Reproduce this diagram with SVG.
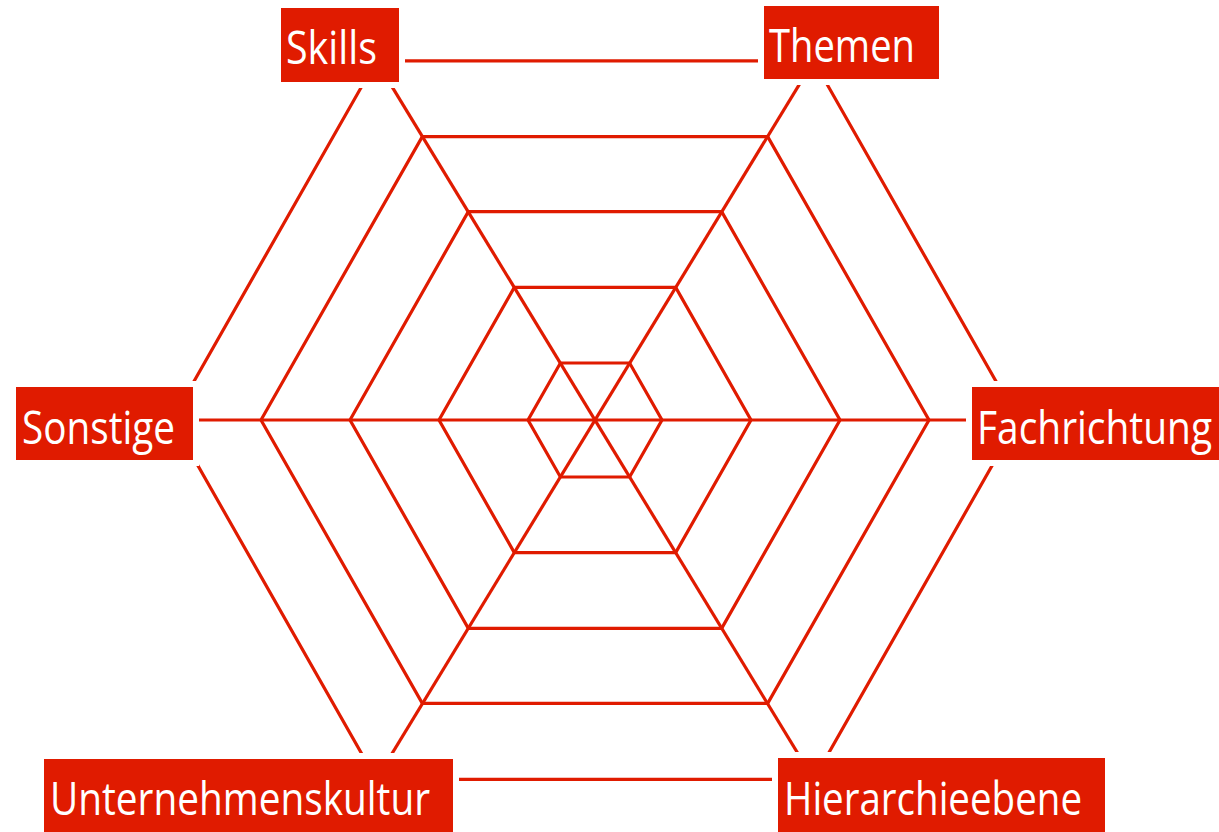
<svg xmlns="http://www.w3.org/2000/svg" width="1219" height="832" viewBox="0 0 1219 832">
<style>
.ln{fill:none;stroke:#e01b00;stroke-width:3.2;stroke-linejoin:miter}
.gap{fill:#ffffff}
.box{fill:#e01b00}
.lbl{fill:#ffffff;font-family:"Open Sans","Noto Sans","Liberation Sans",sans-serif;font-size:45px}
</style>
<rect x="0" y="0" width="1219" height="832" fill="#ffffff"/>
<g id="web">
<g id="rings">
<polygon class="ln" points="528,420 560.4,363 629.6,363 662,420 629.6,477 560.4,477"/>
<polygon class="ln" points="439,420 514.3,287.4 675.7,287.4 751,420 675.7,552.6 514.3,552.6"/>
<polygon class="ln" points="350,420 468.3,211.7 721.7,211.7 840,420 721.7,628.3 468.3,628.3"/>
<polygon class="ln" points="261,420 422.3,136.6 767.7,136.6 929,420 767.7,703.4 422.3,703.4"/>
<polygon class="ln" points="172,420 376.3,60.8 813.7,60.8 1018,420 813.7,779.4 376.3,779.4"/>
</g>
<g id="spokes">
<line class="ln" x1="172" y1="420" x2="1018" y2="420"/>
<line class="ln" x1="376.3" y1="60.8" x2="813.7" y2="779.4"/>
<line class="ln" x1="813.7" y1="60.8" x2="376.3" y2="779.4"/>
</g>
</g>
<g id="node-skills">
<rect class="gap" x="275" y="2" width="130" height="86"/>
<rect class="box" x="281" y="8" width="118" height="74"/>
<text class="lbl" x="286" y="64" textLength="91" lengthAdjust="spacingAndGlyphs">Skills</text>
</g>
<g id="node-themen">
<rect class="gap" x="758" y="0" width="187" height="85"/>
<rect class="box" x="764" y="6" width="175" height="73"/>
<text class="lbl" x="769" y="62" textLength="146" lengthAdjust="spacingAndGlyphs">Themen</text>
</g>
<g id="node-sonstige">
<rect class="gap" x="10" y="381" width="189" height="85"/>
<rect class="box" x="16" y="387" width="177" height="73"/>
<text class="lbl" x="22" y="444" textLength="153" lengthAdjust="spacingAndGlyphs">Sonstige</text>
</g>
<g id="node-fachrichtung">
<rect class="gap" x="966" y="381" width="253" height="85"/>
<rect class="box" x="972" y="387" width="247" height="73"/>
<text class="lbl" x="977" y="444" textLength="235" lengthAdjust="spacingAndGlyphs">Fachrichtung</text>
</g>
<g id="node-unternehmenskultur">
<rect class="gap" x="38" y="753" width="421" height="79"/>
<rect class="box" x="44" y="759" width="409" height="73"/>
<text class="lbl" x="50" y="815" textLength="380" lengthAdjust="spacingAndGlyphs">Unternehmenskultur</text>
</g>
<g id="node-hierarchieebene">
<rect class="gap" x="772" y="752" width="339" height="80"/>
<rect class="box" x="778" y="758" width="327" height="74"/>
<text class="lbl" x="784" y="815" textLength="298" lengthAdjust="spacingAndGlyphs">Hierarchieebene</text>
</g>
</svg>
